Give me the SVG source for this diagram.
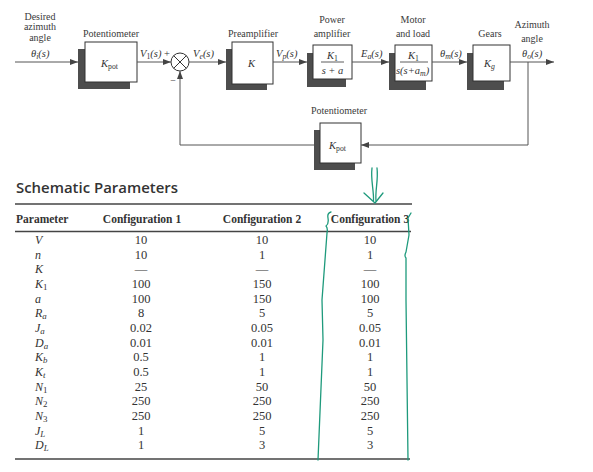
<svg xmlns="http://www.w3.org/2000/svg" width="593" height="472" viewBox="0 0 593 472">
<defs>
<marker id="arr" viewBox="0 0 8 6" refX="8" refY="3" markerWidth="8" markerHeight="6" markerUnits="userSpaceOnUse" orient="auto">
<path d="M0 0 L8 3 L0 6 Z" fill="#444"/>
</marker>
<style>
.lbl{font-family:"Liberation Serif",serif;font-size:10px;fill:#3a3a3a;text-anchor:middle}
.m{font-family:"Liberation Serif",serif;font-size:10.5px;fill:#333;font-style:italic}
.sub{font-size:0.74em;font-style:normal}
.subi{font-size:0.74em}
.sh{fill:#4d4d4d}
.fr{fill:#fff;stroke:#333;stroke-width:1}
.ln{fill:none;stroke:#555;stroke-width:1}
.th{font-family:"Liberation Serif",serif;font-size:11.5px;font-weight:bold;fill:#333}
.tv{font-family:"Liberation Serif",serif;font-size:12.5px;fill:#333;text-anchor:middle}
.tp{font-family:"Liberation Serif",serif;font-size:12px;fill:#333;font-style:italic}
.rule{stroke:#444;stroke-width:1.3}
.gr{fill:none;stroke:#1e9a7c;stroke-width:1.3;stroke-linecap:round;stroke-linejoin:round}
</style>
</defs>
<rect width="593" height="472" fill="#fff"/>

<g id="input-label">
<text class="lbl" x="40" y="20">Desired</text>
<text class="lbl" x="40" y="30">azimuth</text>
<text class="lbl" x="40" y="41">angle</text>
<text class="m" x="31" y="57">θ<tspan class="subi" dy="2">i</tspan><tspan dy="-2">(s)</tspan></text>
</g>

<g id="pot1">
<text class="lbl" x="111" y="37">Potentiometer</text>
<rect class="sh" x="78" y="49" width="52" height="40"/>
<rect class="fr" x="85" y="42" width="52" height="40"/>
<text class="m" x="101" y="67">K<tspan class="sub" dy="2">pot</tspan></text>
</g>

<g id="sum">
<circle cx="180" cy="62" r="9" fill="#fff" stroke="#333" stroke-width="1"/>
<path d="M173.6 55.6 L186.4 68.4 M186.4 55.6 L173.6 68.4" stroke="#333" stroke-width="1"/>
<text class="m" x="140" y="57">V<tspan class="sub" dy="2">1</tspan><tspan dy="-2">(s)</tspan><tspan font-style="normal"> +</tspan></text>
<text class="m" x="193" y="57">V<tspan class="subi" dy="2">e</tspan><tspan dy="-2">(s)</tspan></text>
<text class="lbl" x="173" y="84">−</text>
</g>

<g id="preamp">
<text class="lbl" x="253" y="37">Preamplifier</text>
<rect class="sh" x="226" y="49" width="41" height="41"/>
<rect class="fr" x="232" y="42" width="41" height="42"/>
<text class="m" x="248" y="67">K</text>
<text class="m" x="276" y="57">V<tspan class="subi" dy="2">p</tspan><tspan dy="-2">(s)</tspan></text>
</g>

<g id="poweramp">
<text class="lbl" x="332" y="23">Power</text>
<text class="lbl" x="332" y="37">amplifier</text>
<rect class="sh" x="307" y="53" width="39" height="34"/>
<rect class="fr" x="313" y="45" width="39" height="34"/>
<text class="m" x="327" y="59">K<tspan class="sub" dy="2">1</tspan></text>
<line x1="321" y1="62" x2="344" y2="62" stroke="#333" stroke-width="0.8"/>
<text class="m" x="332.5" y="74" text-anchor="middle">s + a</text>
<text class="m" x="361" y="57">E<tspan class="subi" dy="2">a</tspan><tspan dy="-2">(s)</tspan></text>
</g>

<g id="motor">
<text class="lbl" x="413" y="23">Motor</text>
<text class="lbl" x="413" y="37">and load</text>
<rect class="sh" x="389" y="53" width="37" height="37"/>
<rect class="fr" x="395" y="45" width="37" height="36"/>
<text class="m" x="408" y="59">K<tspan class="sub" dy="2">1</tspan></text>
<line x1="400" y1="62" x2="428" y2="62" stroke="#333" stroke-width="0.8"/>
<text class="m" x="396" y="74" font-size="9px">s(s+a<tspan class="subi" dy="2">m</tspan><tspan dy="-2">)</tspan></text>
<text class="m" x="440" y="57">θ<tspan class="subi" dy="2">m</tspan><tspan dy="-2">(s)</tspan></text>
</g>

<g id="gears">
<text class="lbl" x="490" y="37">Gears</text>
<rect class="sh" x="467" y="53" width="37" height="37"/>
<rect class="fr" x="473" y="45" width="37" height="36"/>
<text class="m" x="484" y="67">K<tspan class="subi" dy="2">g</tspan></text>
</g>

<g id="output-label">
<text class="lbl" x="532" y="28">Azimuth</text>
<text class="lbl" x="532" y="42">angle</text>
<text class="m" x="522" y="57">θ<tspan class="subi" dy="2">o</tspan><tspan dy="-2">(s)</tspan></text>
</g>

<g id="pot2">
<text class="lbl" x="339" y="114">Potentiometer</text>
<rect class="sh" x="314" y="130" width="41" height="40"/>
<rect class="fr" x="320" y="123" width="41" height="40"/>
<text class="m" x="329" y="149">K<tspan class="sub" dy="2">pot</tspan></text>
</g>

<g id="connectors">
<path class="ln" d="M15 62 H78" marker-end="url(#arr)"/>
<path class="ln" d="M137 62 H171" marker-end="url(#arr)"/>
<path class="ln" d="M189 62 H226" marker-end="url(#arr)"/>
<path class="ln" d="M273 62 H307" marker-end="url(#arr)"/>
<path class="ln" d="M352 62 H389" marker-end="url(#arr)"/>
<path class="ln" d="M432 62 H467" marker-end="url(#arr)"/>
<path class="ln" d="M510 62 H554" marker-end="url(#arr)"/>
<path class="ln" d="M528 62 V145 H361" marker-end="url(#arr)"/>
<path class="ln" d="M314 145 H180 V71" marker-end="url(#arr)"/>
</g>

<g id="table">
<text x="16" y="193" font-family="'Open Sans',sans-serif" font-weight="600" font-size="15" fill="#333" textLength="162" lengthAdjust="spacingAndGlyphs">Schematic Parameters</text>
<line class="rule" x1="15" y1="204" x2="412" y2="204"/>
<line class="rule" x1="15" y1="231.5" x2="411" y2="231.5"/>
<line class="rule" x1="15" y1="459" x2="410" y2="459"/>
<text class="th" x="16" y="223">Parameter</text>
<text class="th" x="142" y="223" text-anchor="middle">Configuration 1</text>
<text class="th" x="262" y="223" text-anchor="middle">Configuration 2</text>
<text class="th" x="370" y="223" text-anchor="middle">Configuration 3</text>

<g class="tp">
<text x="35" y="244">V</text>
<text x="35" y="258.6">n</text>
<text x="35" y="273.3">K</text>
<text x="35" y="288">K<tspan class="sub" dy="2">1</tspan></text>
<text x="35" y="302.6">a</text>
<text x="35" y="317.3">R<tspan class="subi" dy="2">a</tspan></text>
<text x="35" y="331.9">J<tspan class="subi" dy="2">a</tspan></text>
<text x="35" y="346.6">D<tspan class="subi" dy="2">a</tspan></text>
<text x="35" y="361.2">K<tspan class="subi" dy="2">b</tspan></text>
<text x="35" y="375.9">K<tspan class="subi" dy="2">t</tspan></text>
<text x="35" y="390.5">N<tspan class="sub" dy="2">1</tspan></text>
<text x="35" y="405.2">N<tspan class="sub" dy="2">2</tspan></text>
<text x="35" y="419.8">N<tspan class="sub" dy="2">3</tspan></text>
<text x="35" y="434.5">J<tspan class="subi" dy="2">L</tspan></text>
<text x="35" y="449.1">D<tspan class="subi" dy="2">L</tspan></text>
</g>

<g class="tv">
<text x="141" y="244">10</text>
<text x="141" y="258.6">10</text>
<text x="141" y="273.3">—</text>
<text x="141" y="288">100</text>
<text x="141" y="302.6">100</text>
<text x="141" y="317.3">8</text>
<text x="141" y="331.9">0.02</text>
<text x="141" y="346.6">0.01</text>
<text x="141" y="361.2">0.5</text>
<text x="141" y="375.9">0.5</text>
<text x="141" y="390.5">25</text>
<text x="141" y="405.2">250</text>
<text x="141" y="419.8">250</text>
<text x="141" y="434.5">1</text>
<text x="141" y="449.1">1</text>
</g>
<g class="tv">
<text x="262" y="244">10</text>
<text x="262" y="258.6">1</text>
<text x="262" y="273.3">—</text>
<text x="262" y="288">150</text>
<text x="262" y="302.6">150</text>
<text x="262" y="317.3">5</text>
<text x="262" y="331.9">0.05</text>
<text x="262" y="346.6">0.01</text>
<text x="262" y="361.2">1</text>
<text x="262" y="375.9">1</text>
<text x="262" y="390.5">50</text>
<text x="262" y="405.2">250</text>
<text x="262" y="419.8">250</text>
<text x="262" y="434.5">5</text>
<text x="262" y="449.1">3</text>
</g>
<g class="tv">
<text x="370" y="244">10</text>
<text x="370" y="258.6">1</text>
<text x="370" y="273.3">—</text>
<text x="370" y="288">100</text>
<text x="370" y="302.6">100</text>
<text x="370" y="317.3">5</text>
<text x="370" y="331.9">0.05</text>
<text x="370" y="346.6">0.01</text>
<text x="370" y="361.2">1</text>
<text x="370" y="375.9">1</text>
<text x="370" y="390.5">50</text>
<text x="370" y="405.2">250</text>
<text x="370" y="419.8">250</text>
<text x="370" y="434.5">5</text>
<text x="370" y="449.1">3</text>
</g>
</g>

<g id="annotations">
<path class="gr" d="M372 168 C370.5 180 374 190 373.5 201"/>
<path class="gr" d="M377 168 C378.5 180 375 190 376 201"/>
<path class="gr" d="M364 193 L375 203 L383 193"/>
<path class="gr" d="M331 212 Q327 213 328 218 Q329 224 326 226 Q328 228 327 233 L322 300 L323 340 L318 460"/>
<path class="gr" d="M411 213 L408 218 L409 235 L406 252 Q404 256 406 258 L406 300 L408 460"/>
</g>
</svg>
